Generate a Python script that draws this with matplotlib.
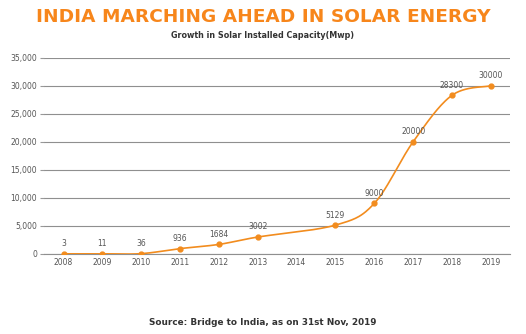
import numpy as np
import matplotlib.pyplot as plt

# data (2014 has no point in the original)
years = ["2008", "2009", "2010", "2011", "2012", "2013", "2014",
         "2015", "2016", "2017", "2018", "2019"]
pt_years = ["2008", "2009", "2010", "2011", "2012", "2013",
            "2015", "2016", "2017", "2018", "2019"]
capacity = [3, 11, 36, 936, 1684, 3002, 5129, 9000, 20000, 28300, 30000]
yticks = [0, 5000, 10000, 15000, 20000, 25000, 30000, 35000]

orange = "#F28C1E"
title_orange = "#F7861B"


def smooth(x, y, n=30):
    # catmull-rom style bezier through the points (like excel "smoothed line")
    x = np.asarray(x, float)
    y = np.asarray(y, float)
    px = np.concatenate([[x[0]], x, [x[-1]]])
    py = np.concatenate([[y[0]], y, [y[-1]]])
    outx, outy = [], []
    t = np.linspace(0, 1, n)
    for i in range(1, len(px) - 2):
        p0 = np.array([px[i], py[i]])
        p3 = np.array([px[i + 1], py[i + 1]])
        c1 = p0 + (np.array([px[i + 1], py[i + 1]]) - np.array([px[i - 1], py[i - 1]])) / 6
        c2 = p3 - (np.array([px[i + 2], py[i + 2]]) - np.array([px[i], py[i]])) / 6
        b = ((1 - t) ** 3)[:, None] * p0 + (3 * (1 - t) ** 2 * t)[:, None] * c1 \
            + (3 * (1 - t) * t ** 2)[:, None] * c2 + (t ** 3)[:, None] * p3
        outx.extend(b[:, 0])
        outy.extend(b[:, 1])
    return np.array(outx), np.array(outy)


xs = [years.index(yr) for yr in pt_years]
sx, sy = smooth(xs, capacity)

fig = plt.figure(figsize=(5.26, 3.34), dpi=100)
ax = fig.add_axes([0.084, 0.24, 0.886, 0.587])

ax.plot(sx, sy, color=orange, linewidth=1.2, zorder=3)
ax.plot(xs, capacity, "o", color=orange, markersize=3.5, zorder=4)
for x, v in zip(xs, capacity):
    ax.annotate(str(v), (x, v), xytext=(0, 4), textcoords="offset points",
                ha="center", va="bottom", fontsize=5.5, color="#555555")

ax.set_xlim(-0.5, len(years) - 0.5)
ax.set_ylim(0, 35000)
ax.set_xticks(range(len(years)))
ax.set_xticklabels(years)
ax.set_yticks(yticks)
ax.set_yticklabels([f"{v:,}" for v in yticks])
ax.tick_params(axis="both", labelsize=5.5, colors="#555555", length=0, pad=3)
ax.tick_params(axis="y", length=3, color="#999999", pad=2)
ax.grid(axis="y", color="#8f8f8f", linewidth=0.8)
ax.set_axisbelow(True)
for s in ["top", "right", "left"]:
    ax.spines[s].set_visible(False)
ax.spines["bottom"].set_color("#8f8f8f")
ax.spines["bottom"].set_linewidth(0.8)

fig.text(0.5, 0.948, "INDIA MARCHING AHEAD IN SOLAR ENERGY", ha="center", va="center",
         fontsize=13.3, fontweight="bold", color=title_orange, family="DejaVu Sans")
fig.text(0.5, 0.895, "Growth in Solar Installed Capacity(Mwp)", ha="center", va="center",
         fontsize=5.8, fontweight="bold", color="#333333")
fig.text(0.5, 0.035, "Source: Bridge to India, as on 31st Nov, 2019", ha="center", va="center",
         fontsize=6.4, fontweight="bold", color="#333333")

fig.savefig("out.png", dpi=100)
